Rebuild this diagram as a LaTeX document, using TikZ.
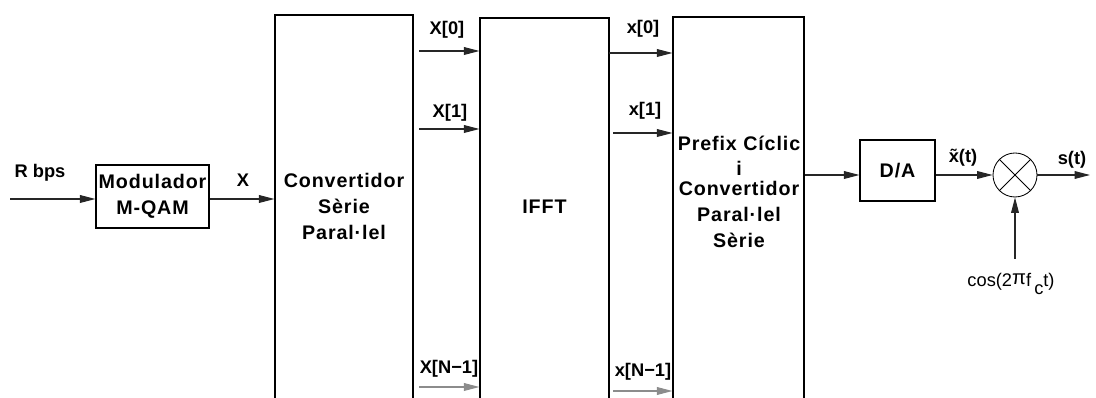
\documentclass[tikz,border=0pt]{standalone}
\usepackage{fontspec}
\setmainfont{Liberation Sans}
\newfontfamily\blockfont[LetterSpace=4.5]{Liberation Sans}
\usetikzlibrary{arrows.meta,fit}

\begin{document}
\begin{tikzpicture}[x=0.025cm, y=-0.025cm, >={Triangle[length=11pt,width=5.5pt]},
  blk/.style={draw, line width=0.8pt, inner sep=0pt},
  blktext/.style={align=center, inner sep=0pt, font=\blockfont\bfseries\fontsize{14}{18.5}\selectfont},
  lbl/.style={inner sep=0pt, font=\bfseries\fontsize{13}{15}\selectfont},
  sig/.style={->, line width=0.75pt, draw=black!85}
]
\clip (0,0) rectangle (1096,398);
% blocks
\node[blk, fit={(96,165) (209,228)}] (mod) {};
\node[blk, fit={(275,15) (413,430)}] (sp) {};
\node[blk, fit={(480,18) (609,430)}] (ifft) {};
\node[blk, fit={(673,17) (804,430)}] (pcs) {};
\node[blk, fit={(860,140) (935,201)}] (da) {};
\node[draw, circle, line width=0.6pt, minimum size=44*0.025cm, inner sep=0pt] (mix) at (1015,175) {};
\draw[line width=0.6pt] (mix.45) -- (mix.225) (mix.135) -- (mix.315);
% block texts
\node[blktext] (modt) at (mod.center) {Modulador\\M-QAM};
\node[blktext] (spt) at (344,206) {Convertidor\\Sèrie\\Paral·lel};
\node[blktext] (ifftt) at (544.5,207) {IFFT};
\node[blktext] (pcst) at (739,192) {Prefix Cíclic\\[-1pt]i\\[-4pt]Convertidor\\Paral·lel\\Sèrie};
\node[blktext] (dat) at (da.center) {D/A};
% free ends
\coordinate (in) at (10,199);
\coordinate (a0) at (419,51);
\coordinate (a1) at (419,129);
\coordinate (a2) at (419,387);
\coordinate (b0) at (609,53);
\coordinate (b1) at (613,133);
\coordinate (b2) at (613,391);
\coordinate (out) at (1090,175);
\coordinate (lo) at (1015,259);
% connectors
\draw[sig] (in) -- (in -| mod.west);
\draw[sig] (mod.east |- in) -- (in -| sp.west);
\draw[sig] (a0) -- (a0 -| ifft.west);
\draw[sig] (a1) -- (a1 -| ifft.west);
\draw[sig, draw=black!45] (a2) -- (a2 -| ifft.west);
\draw[sig] (b0) -- (b0 -| pcs.west);
\draw[sig] (b1) -- (b1 -| pcs.west);
\draw[sig, draw=black!45] (b2) -- (b2 -| pcs.west);
\draw[sig] (pcs.east |- mix) -- (da.west |- mix);
\draw[sig] (da.east |- mix) -- (mix.west);
\draw[sig] (mix.east) -- (out);
\draw[sig] (lo) -- (mix.south);
% signal labels
\node[lbl] (rbps) at (40,173) {R bps};
\node[lbl] (xl) at (243,180) {X};
\node[lbl] (xa0) at (447,30) {X[0]};
\node[lbl] (xa1) at (450,113) {X[1]};
\node[lbl] (xa2) at (449,369) {X[N−1]};
\node[lbl] (xb0) at (643,29) {x[0]};
\node[lbl] (xb1) at (645,111) {x[1]};
\node[lbl] (xb2) at (643,372) {x[N−1]};
\node[lbl] (xt) at (963,158) {\~{x}(t)};
\node[lbl] (st) at (1072,160) {s(t)};
\node[lbl, font=\fontsize{13}{15}\selectfont] (cosl) at (1011,284) {cos(2\raisebox{1pt}{\Large π}f\,\raisebox{-6pt}{c}t)};
\end{tikzpicture}
\end{document}
